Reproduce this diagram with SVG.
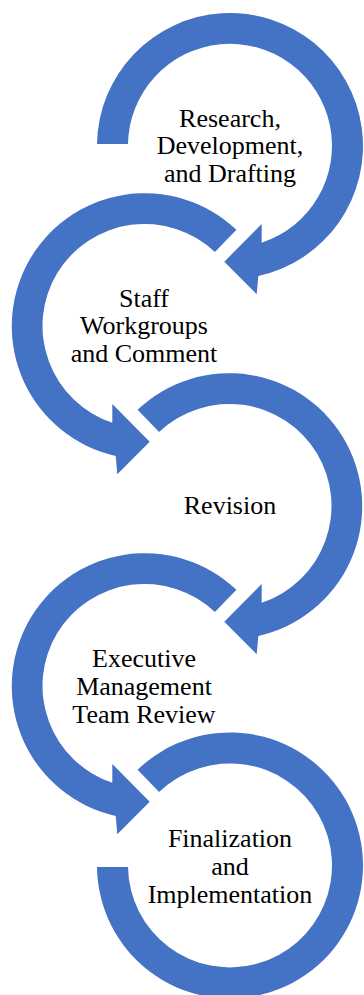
<svg xmlns="http://www.w3.org/2000/svg" width="364" height="995" viewBox="0 0 364 995">
  <style>
    .arrow { fill: #4472C4; stroke: none; }
    .label { font-family: 'Liberation Serif', 'Times New Roman', Tinos, 'DejaVu Serif', serif; font-size: 26px; fill: #000000; text-anchor: middle; }
  </style>
  <rect width="364" height="995" fill="#FFFFFF"/>

  <!-- circular arrows: ring outer r=133, inner r=102 -->
  <g id="connectors">
    <!-- step 1: clockwise from the left side, arrowhead at bottom -->
    <path id="arc-1" class="arrow" d="M 97,144 A 133 133 0 1 1 258.3,276 L 256.7,294.3 L 224.3,261.7 L 261.7,224 L 261.7,242.7 A 102 102 0 1 0 128,144 Z"/>
    <!-- step 2: counter-clockwise, mirrored -->
    <path id="arc-2" class="arrow" d="M 236.4,229.8 A 133 133 0 1 0 115.7,456 L 117.3,474.3 L 149.7,441.7 L 112.3,404 L 112.3,422.7 A 102 102 0 1 1 214.9,252.1 Z"/>
    <!-- step 3 -->
    <path id="arc-3" class="arrow" d="M 137.6,409.8 A 133 133 0 1 1 258.3,636 L 256.7,654.3 L 224.3,621.7 L 261.7,584 L 261.7,602.7 A 102 102 0 1 0 159.1,432.1 Z"/>
    <!-- step 4 -->
    <path id="arc-4" class="arrow" d="M 236.4,589.8 A 133 133 0 1 0 115.7,816 L 117.3,834.3 L 149.7,801.7 L 112.3,764 L 112.3,782.7 A 102 102 0 1 1 214.9,612.1 Z"/>
    <!-- step 5: closing ring, ends flat on the left side -->
    <path id="arc-5" class="arrow" d="M 137.6,769.8 A 133 133 0 1 1 97,867 L 128,867 A 102 102 0 1 0 159.1,792.1 Z"/>
  </g>

  <g id="node-research" class="label" font-family="Liberation Serif, serif">
    <text x="230" y="126.5">Research,</text>
    <text x="230" y="154.2">Development,</text>
    <text x="230" y="181.9">and Drafting</text>
  </g>

  <g id="node-staff" class="label" font-family="Liberation Serif, serif">
    <text x="144" y="306.5">Staff</text>
    <text x="144" y="334.2">Workgroups</text>
    <text x="144" y="361.9">and Comment</text>
  </g>

  <g id="node-revision" class="label" font-family="Liberation Serif, serif">
    <text x="230" y="514.3">Revision</text>
  </g>

  <g id="node-executive" class="label" font-family="Liberation Serif, serif">
    <text x="144" y="667.3">Executive</text>
    <text x="144" y="695">Management</text>
    <text x="144" y="722.5">Team Review</text>
  </g>

  <g id="node-final" class="label" font-family="Liberation Serif, serif">
    <text x="230" y="847.3">Finalization</text>
    <text x="230" y="875">and</text>
    <text x="230" y="902.5">Implementation</text>
  </g>
</svg>
